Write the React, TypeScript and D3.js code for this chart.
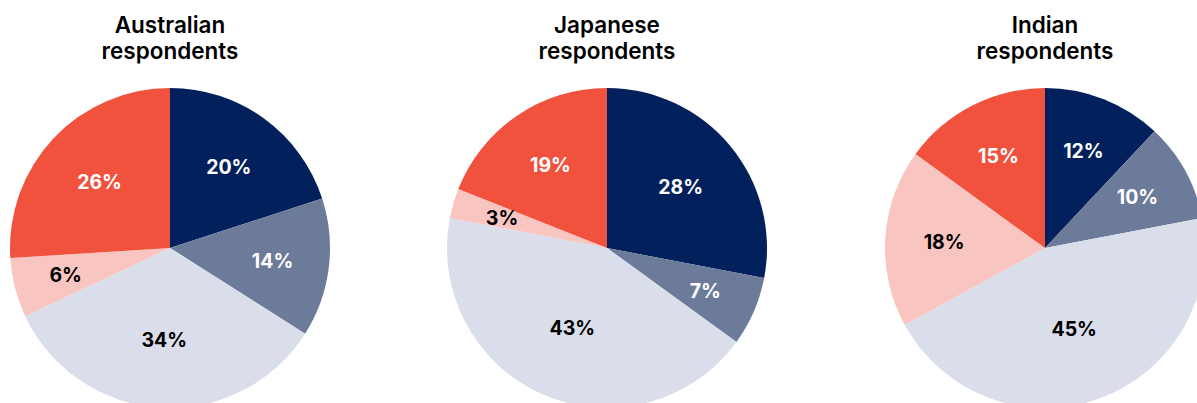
import React from "react";
import * as d3 from "d3";

const categories = ["A", "B", "C", "D", "E"];
const colors = ["#02205B", "#6D7B9A", "#D9DEEA", "#F9C5C0", "#F0523D"];
const labelColors = ["#ffffff", "#ffffff", "#000000", "#000000", "#ffffff"];

const titles = [
  ["Australian", "respondents"],
  ["Japanese", "respondents"],
  ["Indian", "respondents"],
];
const australian = [20, 14, 34, 6, 26];
const japanese = [28, 7, 43, 3, 19];
const indian = [12, 10, 45, 18, 15];
const seriesList = [australian, japanese, indian];

const centersX = [170, 607, 1045];
const centerY = 248;
const radius = 160;

export default function App() {
  const pie = d3.pie<number>().sort(null).value((d) => d);
  const arc = d3.arc<d3.PieArcDatum<number>>().innerRadius(0).outerRadius(radius);

  return (
    <svg
      width={1197}
      height={403}
      style={{ position: "absolute", left: 0, top: 0, background: "#fff" }}
      fontFamily="Inter, 'Open Sans', sans-serif"
    >
      {seriesList.map((series, i) => {
        const arcs = pie(series);
        return (
          <g key={i}>
            <text
              x={centersX[i]}
              y={33}
              textAnchor="middle"
              fontSize={22.5}
              fontWeight={600}
              fill="#000"
            >
              {titles[i][0]}
            </text>
            <text
              x={centersX[i]}
              y={58.5}
              textAnchor="middle"
              fontSize={22.5}
              fontWeight={600}
              fill="#000"
            >
              {titles[i][1]}
            </text>
            <g transform={`translate(${centersX[i]},${centerY})`}>
              {arcs.map((a, j) => (
                <path key={categories[j]} d={arc(a) || ""} fill={colors[j]} />
              ))}
              {arcs.map((a, j) => {
                const r = 111 - 0.55 * series[j];
                const la = d3.arc<d3.PieArcDatum<number>>().innerRadius(r).outerRadius(r);
                const [x, y] = la.centroid(a);
                return (
                  <text
                    key={"l" + categories[j]}
                    x={x}
                    y={y}
                    dy="0.36em"
                    textAnchor="middle"
                    fontSize={19.5}
                    fontWeight={700}
                    fill={labelColors[j]}
                  >
                    {`${series[j]}%`}
                  </text>
                );
              })}
            </g>
          </g>
        );
      })}
    </svg>
  );
}
